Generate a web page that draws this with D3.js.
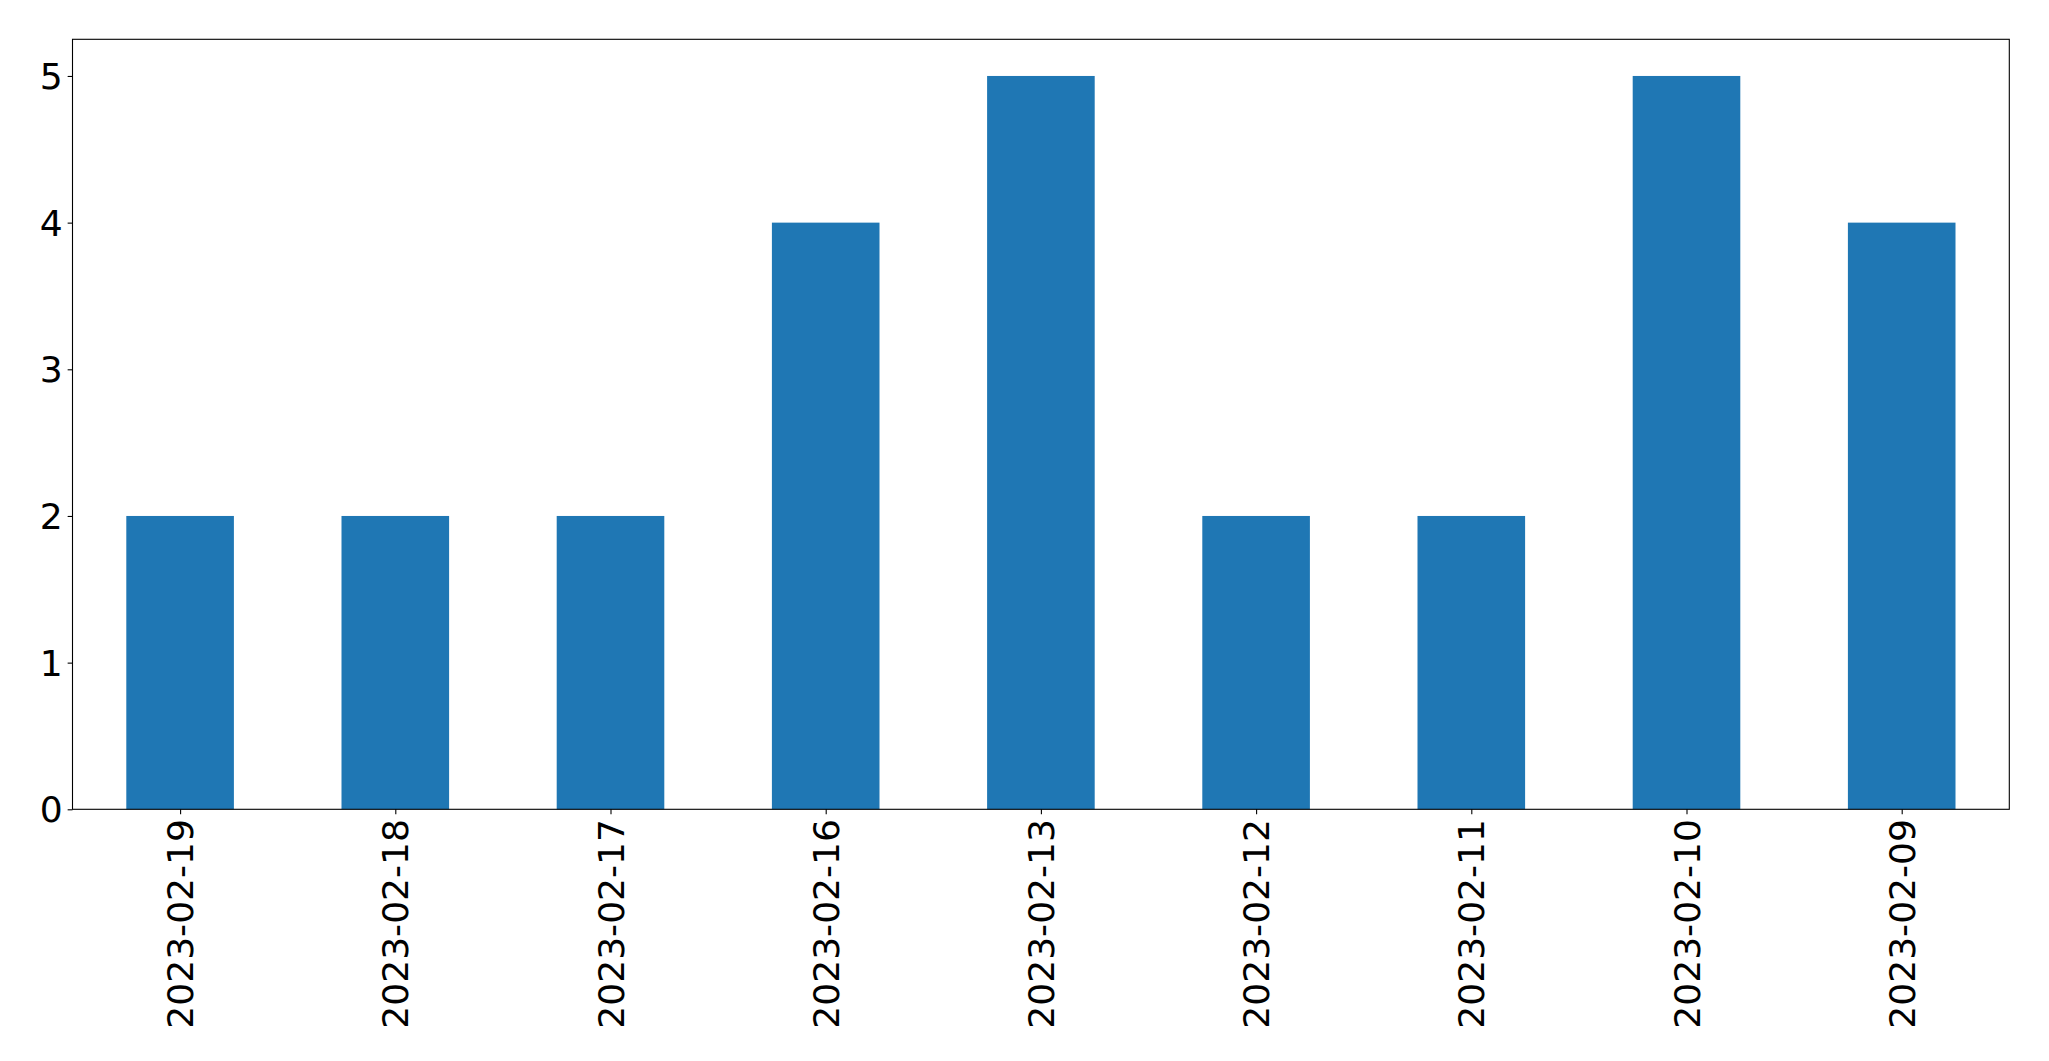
<!DOCTYPE html>
<html>
<head>
<meta charset="utf-8">
<script src="https://cdn.jsdelivr.net/npm/d3@7"></script>
<style>
  html, body { margin: 0; padding: 0; background: #fff; }
  svg { display: block; }
</style>
</head>
<body>
<script>
const categories = ["2023-02-19","2023-02-18","2023-02-17","2023-02-16","2023-02-13","2023-02-12","2023-02-11","2023-02-10","2023-02-09"];
const values = [2, 2, 2, 4, 5, 2, 2, 5, 4];
const yTicks = [0, 1, 2, 3, 4, 5];

const W = 2049, H = 1061;
const margin = {left: 72.5, top: 39.3, right: W - 2009.3, bottom: H - 809.3};
const fontSize = 36.1;
const tickLen = 4.86, tickPad = 4.86;

const svg = d3.select("body").append("svg").attr("width", W).attr("height", H);

const x0 = margin.left, x1 = W - margin.right, y0 = H - margin.bottom, y1 = margin.top;

// pandas-style bar positions: indices with xlim [-0.5, n-0.5], bar width 0.5
const x = d3.scaleLinear().domain([-0.5, categories.length - 0.5]).range([x0, x1]);
const y = d3.scaleLinear().domain([0, 5.25]).range([y0, y1]);

const g = svg.append("g");

g.selectAll("rect.bar").data(values).enter().append("rect")
  .attr("class", "bar")
  .attr("x", (d, i) => x(i - 0.25))
  .attr("width", (d, i) => x(i + 0.25) - x(i - 0.25))
  .attr("y", d => y(d))
  .attr("height", d => y(0) - y(d))
  .attr("fill", "#1f77b4");

// Y axis
const yAxis = d3.axisLeft(y).tickValues(yTicks).tickFormat(d3.format("d"))
  .tickSize(tickLen).tickPadding(tickPad);
const ya = svg.append("g").attr("transform", `translate(${x0},0)`).call(yAxis);
ya.select(".domain").remove();
ya.selectAll("line").attr("stroke", "#000").attr("stroke-width", 1.1);
ya.selectAll("text").attr("font-family", "DejaVu Sans").attr("font-size", fontSize).attr("fill", "#000")
  .attr("dy", "0.35em");

// X axis
const xAxis = d3.axisBottom(x).tickValues(d3.range(categories.length)).tickFormat(i => categories[i])
  .tickSize(tickLen).tickPadding(tickPad);
const xa = svg.append("g").attr("transform", `translate(0,${y0})`).call(xAxis);
xa.select(".domain").remove();
xa.selectAll("line").attr("stroke", "#000").attr("stroke-width", 1.1);
xa.selectAll("text")
  .attr("font-family", "DejaVu Sans").attr("font-size", fontSize).attr("fill", "#000")
  .attr("text-anchor", "end")
  .attr("dy", "0.35em")
  .attr("y", 0)
  .attr("transform", `translate(0,${tickLen + tickPad}) rotate(-90)`);

// Frame
svg.append("rect")
  .attr("x", x0).attr("y", y1).attr("width", x1 - x0).attr("height", y0 - y1)
  .attr("fill", "none").attr("stroke", "#000").attr("stroke-width", 1.1);
</script>
</body>
</html>
